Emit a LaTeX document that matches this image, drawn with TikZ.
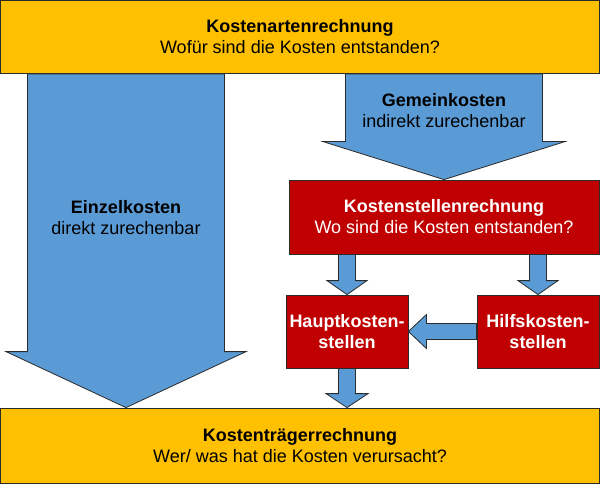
\documentclass[tikz,border=0pt]{standalone}
\usepackage{fontspec}
\setmainfont{Liberation Sans}
\usetikzlibrary{calc}
\definecolor{kyellow}{HTML}{FFC000}
\definecolor{kblue}{HTML}{5B9BD5}
\definecolor{kred}{HTML}{C00000}
\definecolor{kline}{HTML}{2B2B2B}
\tikzset{
  box/.style={draw=kline, line width=0.8pt, inner sep=0pt, align=center,
    font=\fontsize{18}{21}\selectfont},
  ybox/.style={box, fill=kyellow, text=black},
  rbox/.style={box, fill=kred, text=white},
  barrow/.style={draw=kline, line width=0.8pt, fill=kblue, line join=miter},
  lbl/.style={align=center, font=\fontsize{18}{21}\selectfont, text=black}
}
% vertical block arrow: #1 start, #2 tip, #3 shaft half width, #4 head half width, #5 head length
\newcommand\kvarrow[5]{%
  \draw[barrow] let \p1=(#1), \p2=(#2) in
    (\x1-#3,\y1) -- (\x1-#3,\y2+#5) -- (\x1-#4,\y2+#5) -- (\x1,\y2)
    -- (\x1+#4,\y2+#5) -- (\x1+#3,\y2+#5) -- (\x1+#3,\y1) -- cycle;}
% horizontal block arrow pointing left
\newcommand\kharrow[5]{%
  \draw[barrow] let \p1=(#1), \p2=(#2) in
    (\x1,\y1-#3) -- (\x2+#5,\y1-#3) -- (\x2+#5,\y1-#4) -- (\x2,\y1)
    -- (\x2+#5,\y1+#4) -- (\x2+#5,\y1+#3) -- (\x1,\y1+#3) -- cycle;}
\begin{document}
\begin{tikzpicture}[x=1pt,y=-1pt]
\useasboundingbox (0,0) rectangle (600,484);
% boxes
\node[ybox, minimum width=599pt, minimum height=73pt] (top) at (300,37)
  {\textbf{Kostenartenrechnung}\\Wofür sind die Kosten entstanden?};
\node[ybox, minimum width=599pt, minimum height=75pt] (bot) at (300,445.5)
  {\textbf{Kostenträgerrechnung}\\Wer/ was hat die Kosten verursacht?};
\node[rbox, minimum width=310pt, minimum height=74pt] (ksr) at (444,217)
  {\textbf{Kostenstellenrechnung}\\Wo sind die Kosten entstanden?};
\node[rbox, minimum width=122pt, minimum height=73pt] (haupt) at (347,331.5)
  {\textbf{Hauptkosten-}\\\textbf{stellen}};
\node[rbox, minimum width=122pt, minimum height=73pt] (hilf) at (538,331.5)
  {\textbf{Hilfskosten-}\\\textbf{stellen}};
% anchor coordinates for the big arrows
\coordinate (ein0) at (top.south -| 126,0);
\coordinate (ein1) at (bot.north -| 126,0);
\coordinate (gem0) at (top.south -| ksr.north);
% block arrows
\kvarrow{ein0}{ein1}{98.5}{120}{56}
\kvarrow{gem0}{ksr.north}{98.5}{121}{38}
\kvarrow{ksr.south -| haupt.north}{haupt.north}{8.5}{20}{14}
\kvarrow{ksr.south -| hilf.north}{hilf.north}{8.5}{20}{14}
\kvarrow{haupt.south}{bot.north -| haupt.south}{8.5}{21}{14}
\kharrow{hilf.west}{haupt.east}{8}{17}{18}
% arrow labels
\node[lbl] (einlbl) at (126,218) {\textbf{Einzelkosten}\\direkt zurechenbar};
\node[lbl] (gemlbl) at (444,111) {\textbf{Gemeinkosten}\\indirekt zurechenbar};
\end{tikzpicture}
\end{document}
